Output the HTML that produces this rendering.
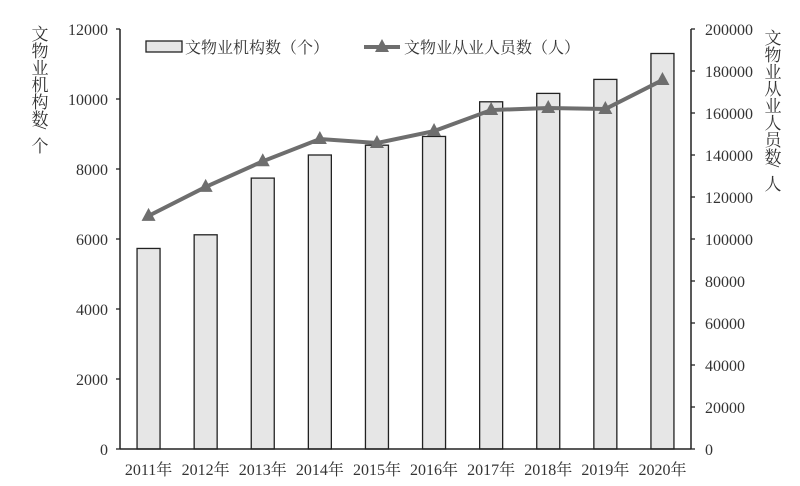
<!DOCTYPE html>
<html><head><meta charset="utf-8"><style>
body{margin:0;background:#fff}
svg{display:block;font-family:"Liberation Serif","Noto Serif CJK SC",serif}
</style></head><body>
<svg id="c" width="800" height="486" viewBox="0 0 800 486"></svg>
<script>
const categories=["2011年","2012年","2013年","2014年","2015年","2016年","2017年","2018年","2019年","2020年"];
const institutions=[5730,6120,7740,8400,8680,8930,9920,10160,10560,11300];
const employees=[111000,124800,137000,147600,145700,151400,161400,162400,161900,175700];
const leftTicks=[0,2000,4000,6000,8000,10000,12000];
const rightTicks=[0,20000,40000,60000,80000,100000,120000,140000,160000,180000,200000];
const NS="http://www.w3.org/2000/svg";
const svg=document.getElementById('c');
const X0=120,X1=691,Y0=449,Y1=29;
const bw=(X1-X0)/categories.length;
const xc=i=>X0+bw*(i+0.5);
const yl=v=>Y0-(v/12000)*(Y0-Y1);
const yr=v=>Y0-(v/200000)*(Y0-Y1);
function el(t,a,p){const e=document.createElementNS(NS,t);for(const k in a)e.setAttribute(k,a[k]);(p||svg).appendChild(e);return e;}
institutions.forEach((v,i)=>{
 const r=el('rect',{x:xc(i)-11.5,y:yl(v),width:23,height:Y0-yl(v),fill:'#e6e6e6',stroke:'#222','stroke-width':1.3});
 
 
});
let a=el('line',{x1:X0,y1:Y1,x2:X0,y2:Y0,stroke:'#222','stroke-width':1.5});

a=el('line',{x1:X1,y1:Y1,x2:X1,y2:Y0,stroke:'#222','stroke-width':1.5});

a=el('line',{x1:X0,y1:Y0,x2:X1,y2:Y0,stroke:'#222','stroke-width':1.5});

leftTicks.forEach(v=>{
 el('line',{x1:X0-4,y1:yl(v),x2:X0,y2:yl(v),stroke:'#222','stroke-width':1.3});
 const t=el('text',{x:X0-12,y:yl(v)+6,'text-anchor':'end','font-size':16,fill:'#333'});t.textContent=v;
 
});
rightTicks.forEach(v=>{
 el('line',{x1:X1,y1:yr(v),x2:X1+4,y2:yr(v),stroke:'#222','stroke-width':1.3});
 const t=el('text',{x:X1+14,y:yr(v)+6,'text-anchor':'start','font-size':16,fill:'#333'});t.textContent=v;
 
});
categories.forEach((c,i)=>{
 const t=el('text',{x:xc(i),y:475,'text-anchor':'middle','font-size':16,fill:'#333'});t.textContent=c;
 
});
const pl=el('polyline',{points:employees.map((v,i)=>xc(i)+','+yr(v)).join(' '),fill:'none',stroke:'#6e6e6e','stroke-width':4});

employees.forEach((v,i)=>{
 const x=xc(i),y=yr(v);
 const m=el('polygon',{points:`${x},${y-8} ${x-7},${y+5} ${x+7},${y+5}`,fill:'#6e6e6e'});
 
});
const lg=el('g',{});
el('rect',{x:146,y:41,width:36,height:11,fill:'#e6e6e6',stroke:'#222','stroke-width':1.3},lg);
let t=el('text',{x:185,y:53,'font-size':16,fill:'#333'},lg);t.textContent='文物业机构数（个）';
el('line',{x1:364,y1:47,x2:400,y2:47,stroke:'#6e6e6e','stroke-width':4},lg);
el('polygon',{points:'382,39 375,52 389,52',fill:'#6e6e6e'},lg);
t=el('text',{x:404,y:53,'font-size':16,fill:'#333'},lg);t.textContent='文物业从业人员数（人）';
function vtitle(s,x,y,name){const g=el('g',{});
 let cy=y;
 [...s].forEach(ch=>{
  if(ch==='/'){
   const tt=el('text',{x:x,y:cy+4,'text-anchor':'middle','font-size':17,fill:'#333',transform:`rotate(90 ${x} ${cy-1})`},g);tt.textContent='/';
   cy+=10;
  } else {
   const tt=el('text',{x:x,y:cy+14,'text-anchor':'middle','font-size':17,fill:'#333'},g);tt.textContent=ch;
   cy+=17;
  }
 });}
vtitle('文物业机构数/个',40,26,'left-axis-title');
vtitle('文物业从业人员数/人',773,30,'right-axis-title');
</script>
</body></html>
